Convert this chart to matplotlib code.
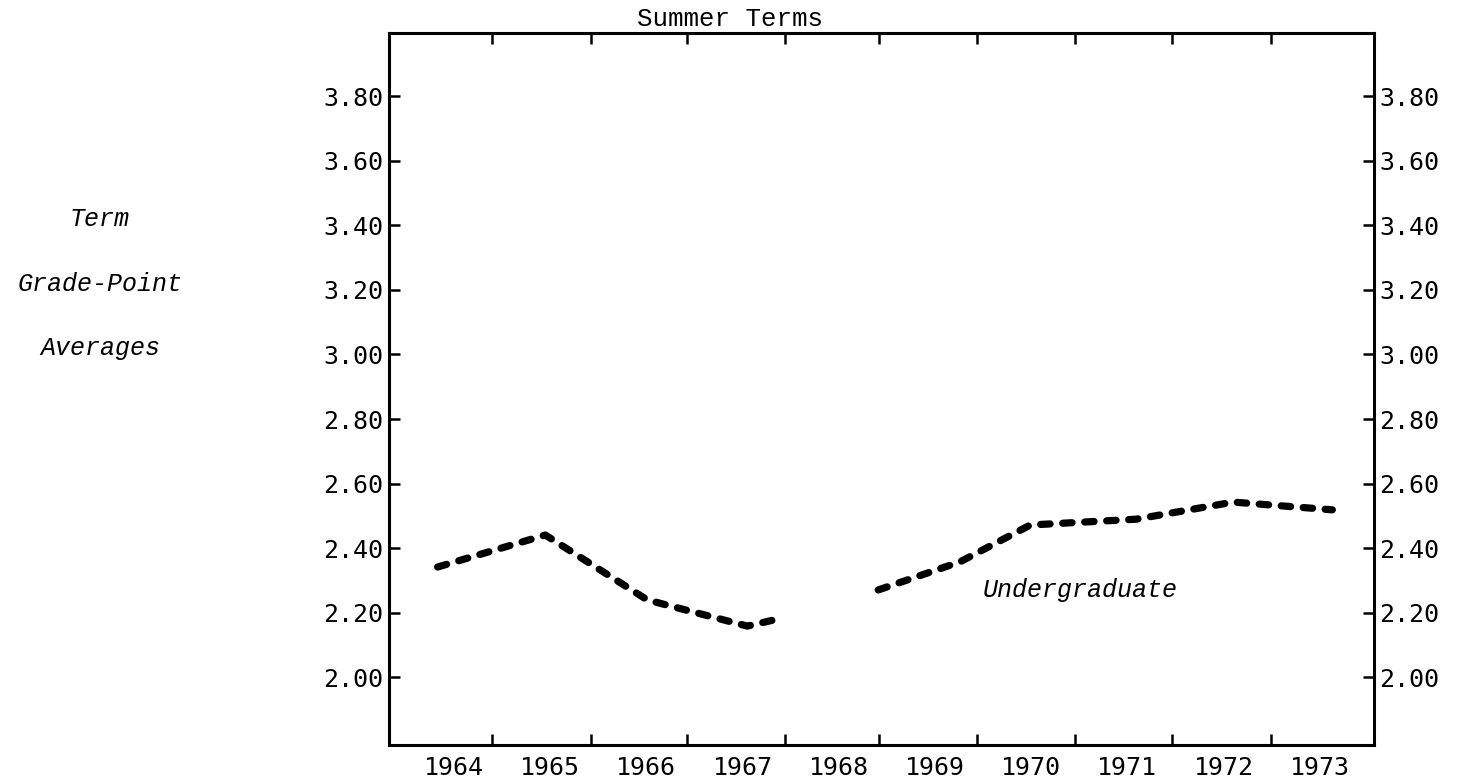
import matplotlib.pyplot as plt

# summer-term undergraduate GPA, drawn in two pieces (no point for 1968)
years = [1964, 1965, 1966, 1967, 1968, 1969, 1970, 1971, 1972, 1973]
gpa_x1 = [1963.83, 1964.95, 1966.01, 1967.05, 1967.41]
gpa_y1 = [2.342, 2.441, 2.240, 2.159, 2.184]
gpa_x2 = [1968.41, 1969.26, 1969.99, 1971.09, 1972.10, 1973.13]
gpa_y2 = [2.271, 2.358, 2.472, 2.490, 2.543, 2.519]

year_ticks = [1964.40, 1965.42, 1966.42, 1967.44, 1968.42, 1969.44, 1970.46, 1971.46, 1972.49]
gpa_ticks = [2.00, 2.20, 2.40, 2.60, 2.80, 3.00, 3.20, 3.40, 3.60, 3.80]

num_font = 'DejaVu Sans Mono'
type_font = 'Liberation Mono'

fig = plt.figure(figsize=(14.6, 7.81), dpi=100)
ax = fig.add_axes([0.2664, 0.0461, 0.6747, 0.9116])

style = dict(color='black', linewidth=5.2, dashes=(1.3, 1.75),
             dash_capstyle='round', solid_capstyle='round')
ax.plot(gpa_x1, gpa_y1, **style)
ax.plot(gpa_x2, gpa_y2, **style)

ax.set_xlim(1963.324, 1973.563)
ax.set_ylim(1.791, 3.995)

for s in ax.spines.values():
    s.set_linewidth(2.2)

ax.set_xticks(year_ticks)
ax.set_xticklabels([])
ax.set_xticks(years, minor=True)
ax.set_xticklabels([str(y) for y in years], minor=True)
ax.tick_params(axis='x', which='major', direction='in', length=8, width=1.8,
               top=True, bottom=True)
ax.tick_params(axis='x', which='minor', length=0, pad=8, labelsize=18)

ax.set_yticks(gpa_ticks)
ax.set_yticklabels([f'{v:.2f}' for v in gpa_ticks])
ax.tick_params(axis='y', direction='in', length=8, width=1.8,
               left=True, right=True, labelleft=True, labelright=True,
               labelsize=18, pad=4)

for lbl in ax.get_xticklabels(minor=True) + ax.get_yticklabels():
    lbl.set_family(num_font)

fig.text(730 / 1460, 1 - 19 / 781, 'Summer Terms', family=type_font,
         fontsize=18.5, ha='center', va='center')

for txt, ypix in [('Term', 219), ('Grade-Point', 284), ('Averages', 348)]:
    fig.text(100 / 1460, 1 - ypix / 781, txt, family=type_font, style='italic',
             fontsize=18, ha='center', va='center')

fig.text(1080 / 1460, 1 - 590 / 781, 'Undergraduate', family=type_font,
         style='italic', fontsize=18, ha='center', va='center')

fig.savefig('out.png', dpi=100)
